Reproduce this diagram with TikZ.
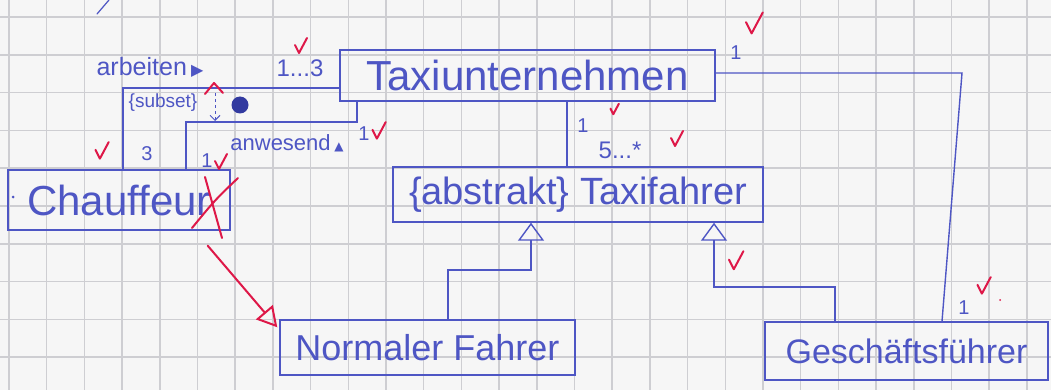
\documentclass[tikz,border=0pt]{standalone}
\usepackage{fontspec}
\setmainfont{Liberation Sans}
\newfontfamily\symfont{DejaVu Sans}
\usetikzlibrary{arrows.meta,calc}
\definecolor{ink}{RGB}{78,86,196}
\definecolor{blobc}{RGB}{50,58,160}
\definecolor{redink}{RGB}{222,24,72}
\definecolor{paper}{RGB}{246,246,246}
\definecolor{gridc}{RGB}{206,206,210}
\begin{document}
\begin{tikzpicture}[x=1pt,y=-1pt,
 box/.style={draw=ink, line width=1.4pt, rectangle, inner sep=0pt, text=ink},
 conn/.style={draw=ink, line width=1.4pt},
 lbl/.style={text=ink, inner sep=0pt},
 redline/.style={draw=redink, line width=2pt, line cap=round, line join=round},
 inh/.style={-{Triangle[open, width=26pt, length=18pt, line width=1.4pt]}},
 check/.pic={\draw[redline] (-5,-2) -- (-1,6) -- (7,-9);},
]
\useasboundingbox (0,0) rectangle (1051,390);
\fill[paper] (0,0) rectangle (1051,390);
\foreach \i in {0,...,27} \draw[gridc, line width=1.5pt] ({9+37.7*\i},0) -- ({9+37.7*\i},390);
\foreach \j in {0,...,10} \draw[gridc, line width=1.5pt] (0,{17+37.8*\j}) -- (1051,{17+37.8*\j});

% classes
\node[box, minimum width=375pt, minimum height=51pt, font=\fontsize{42}{46}\selectfont] (tu) at (527.5,75.5) {Taxiunternehmen};
\node[box, minimum width=222pt, minimum height=60pt, font=\fontsize{42}{46}\selectfont] (ch) at (119,200) {Chauffeur};
\node[box, minimum width=370pt, minimum height=55pt, font=\fontsize{38}{42}\selectfont] (tf) at (578,194.5) {\{abstrakt\} Taxifahrer};
\node[box, minimum width=295pt, minimum height=55pt, font=\fontsize{36}{40}\selectfont] (nf) at (427.5,347.5) {Normaler Fahrer};
\node[box, minimum width=283pt, minimum height=58pt, font=\fontsize{34}{38}\selectfont] (gf) at (906.5,351) {Geschäftsführer};

% associations
\coordinate (arbL) at (123,88);
\draw[conn] (tu.west |- arbL) -- (arbL) -- (arbL |- ch.north);
\coordinate (anwR) at (357,122);
\coordinate (anwL) at (186,122);
\draw[conn] (anwR |- tu.south) -- (anwR) -- (anwL) -- (anwL |- ch.north);
\coordinate (subT) at (215,93);
\coordinate (subB) at (215,121);
\draw[ink, line width=1pt, dash pattern=on 3pt off 3pt, -{Straight Barb[length=5pt,width=10pt]}] (subT) -- (subB);
\node[lbl, font=\fontsize{19}{20}\selectfont] (subset) at (163,103) {\{subset\}};
\node[circle, fill=blobc, minimum size=17pt, inner sep=0pt] (blob) at (240,105) {};

\coordinate (v1) at (567,130);
\draw[conn] (v1 |- tu.south) -- (v1 |- tf.north);
\coordinate (g1) at (962,73);
\coordinate (g2) at (942,300);
\draw[conn] (tu.east |- g1) -- (g1) -- (g2 |- gf.north);

% generalisations
\coordinate (n1) at (531,270);
\coordinate (n2) at (448,270);
\draw[conn, inh] (n2 |- nf.north) -- (n2) -- (n1) -- (n1 |- tf.south);
\coordinate (m1) at (714,287);
\coordinate (m2) at (835,287);
\draw[conn, inh] (m2 |- gf.north) -- (m2) -- (m1) -- (m1 |- tf.south);

% labels
\node[lbl, font=\fontsize{25}{26}\selectfont] (arbeiten) at (150,67) {arbeiten\,{\symfont\fontsize{16}{16}\selectfont ▶}};
\node[lbl, font=\fontsize{24}{24}\selectfont] (m13) at (300,68) {1...3};
\node[lbl, font=\fontsize{20}{20}\selectfont] (m3) at (147,154) {3};
\node[lbl, font=\fontsize{20}{20}\selectfont] (m1a) at (207,161) {1};
\node[lbl, font=\fontsize{22}{22}\selectfont] (anw) at (287,143) {anwesend\,{\symfont\fontsize{12}{12}\selectfont ▲}};
\node[lbl, font=\fontsize{20}{20}\selectfont] (m1b) at (364,134) {1};
\node[lbl, font=\fontsize{20}{20}\selectfont] (m1c) at (583,126) {1};
\node[lbl, font=\fontsize{24}{24}\selectfont] (m5) at (620,150) {5...*};
\node[lbl, font=\fontsize{20}{20}\selectfont] (m1d) at (736,53) {1};
\node[lbl, font=\fontsize{20}{20}\selectfont] (m1e) at (964,308) {1};

% stray blue marks
\draw[ink, line width=1.2pt, line cap=round] (97,14) -- (109,0);
\fill[ink] (13,197) circle (1.5pt);

% red corrections
\draw[redline, -{Triangle[open, width=22pt, length=20pt, line width=2pt]}] ($(ch.south east)+(-23,15)$) -- ($(nf.north west)+(-2,8)$);
\draw[redline] (238,178) .. controls (215,200) .. (192,228);
\draw[redline] (205,177) -- (222,238);
\draw[redline] (205,94) -- (214,83) -- (223,93);
\pic at (300,47) {check};
\pic[scale=1.1] at (101,152) {check};
\pic at (220,163) {check};
\pic[scale=1.1] at (378,132) {check};
\pic[scale=0.7] at (614,110) {check};
\pic at (676,140) {check};
\pic[scale=1.4] at (753,25) {check};
\pic[scale=1.2] at (735,262) {check};
\pic[scale=1.1] at (983,287) {check};
\fill[redink] (1000,300) circle (1pt);
\end{tikzpicture}
\end{document}
